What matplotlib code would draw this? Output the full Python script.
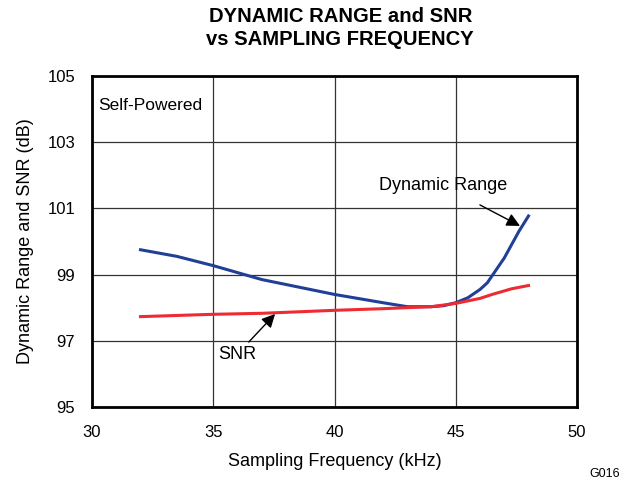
import matplotlib
matplotlib.use("Agg")
import matplotlib.pyplot as plt

plt.rcParams['font.family'] = ['Liberation Sans', 'DejaVu Sans']

# curves
dr_freq = [32, 33.5, 35, 37, 40, 42, 43, 44, 44.5, 45, 45.5, 46, 46.3, 47, 47.6, 48]
dr_db = [99.75, 99.55, 99.27, 98.85, 98.4, 98.15, 98.03, 98.03, 98.06, 98.15,
         98.3, 98.55, 98.75, 99.5, 100.3, 100.77]

snr_freq = [32, 35, 37, 40, 42, 43, 44, 45, 46, 46.5, 47.3, 48]
snr_db = [97.73, 97.8, 97.83, 97.92, 97.97, 98.0, 98.03, 98.13, 98.28, 98.4, 98.57, 98.67]

x_ticks = [30, 35, 40, 45, 50]
y_ticks = [95, 97, 99, 101, 103, 105]

fig = plt.figure(figsize=(6.29, 4.87), dpi=100)
ax = fig.add_axes([0.1463, 0.1643, 0.7710, 0.6797])

ax.plot(dr_freq, dr_db, color="#1f3f99", lw=2.2, zorder=3)
ax.plot(snr_freq, snr_db, color="#ee2a32", lw=2.2, zorder=3)

ax.set_xlim(30, 50)
ax.set_ylim(95, 105)
ax.set_xticks(x_ticks)
ax.set_yticks(y_ticks)
ax.grid(True, color="#333333", lw=0.9)
ax.tick_params(length=0, labelsize=12)
ax.tick_params(axis="x", pad=13)
ax.tick_params(axis="y", pad=12)
for s in ax.spines.values():
    s.set_linewidth(2)

ax.set_xlabel("Sampling Frequency (kHz)", fontsize=13, labelpad=9)
ax.set_ylabel("Dynamic Range and SNR (dB)", fontsize=13, labelpad=10)

fig.text(0.541, 0.986, "DYNAMIC RANGE and SNR\nvs SAMPLING FREQUENCY",
         ha="center", va="top", fontsize=14.6, fontweight="bold", linespacing=1.3)

ax.text(30.25, 104.1, "Self-Powered", fontsize=12.5, va="center", ha="left",
        bbox=dict(facecolor="white", edgecolor="none", pad=2), zorder=4)

ax.annotate("Dynamic Range", xy=(47.65, 100.47), xytext=(44.5, 101.68),
            fontsize=13, ha="center", va="center",
            arrowprops=dict(arrowstyle="-|>", color="black", lw=1,
                            mutation_scale=20, shrinkA=12, shrinkB=0),
            zorder=4)
ax.annotate("SNR", xy=(37.55, 97.81), xytext=(36.0, 96.6),
            fontsize=13, ha="center", va="center",
            bbox=dict(facecolor="white", edgecolor="none", pad=1),
            arrowprops=dict(arrowstyle="-|>", color="black", lw=1,
                            mutation_scale=20, shrinkA=2, shrinkB=0),
            zorder=4)

fig.text(0.985, 0.015, "G016", fontsize=9, ha="right", va="bottom")

fig.savefig("out.png", dpi=100)
